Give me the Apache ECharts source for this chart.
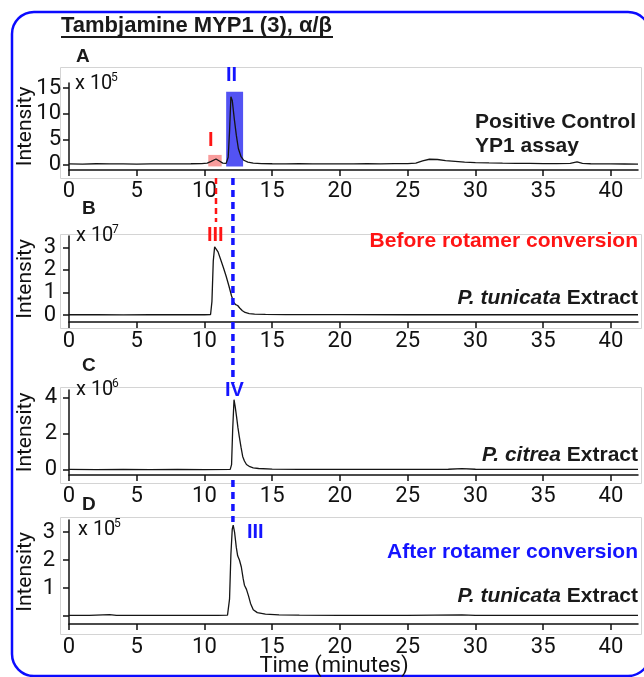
<!DOCTYPE html>
<html><head><meta charset="utf-8">
<script src="https://cdn.jsdelivr.net/npm/echarts@6/dist/echarts.min.js"></script>
<style>html,body{margin:0;padding:0;background:#fff}#c{width:644px;height:677px}</style>
</head><body><div id="c"></div>
<script>
// ---- data (time in minutes, intensity in the panel's scale unit) ----
const timeTicks = [0, 5, 10, 15, 20, 25, 30, 35, 40];
// Panel A: Positive control YP1 assay (x 10^5)
const chromA = [[0,0.2],[1,0.15],[2,0.22],[3,0.18],[4,0.2],[5,0.16],[6,0.21],[7,0.18],[8,0.2],[9,0.22],[9.8,0.25],[10.2,0.35],[10.5,0.7],[10.85,1.15],[11.1,0.75],[11.35,0.35],[11.6,0.3],[11.75,1.5],[11.85,6.5],[11.95,13.3],[12.05,12.6],[12.2,9.0],[12.35,5.8],[12.5,3.2],[12.7,1.6],[12.9,0.9],[13.2,0.55],[13.6,0.35],[14.2,0.25],[15,0.22],[16,0.2],[17,0.22],[18,0.18],[19,0.2],[20,0.21],[21,0.19],[22,0.22],[23,0.2],[24,0.23],[25,0.25],[25.6,0.35],[26.1,0.8],[26.6,1.1],[27.2,1.05],[27.8,0.85],[28.5,0.7],[29.2,0.55],[30,0.45],[31,0.38],[32,0.33],[33,0.3],[34,0.28],[35,0.26],[36,0.25],[37,0.3],[37.5,0.6],[37.9,0.3],[38.5,0.22],[39,0.2],[40,0.18],[41,0.17],[42,0.15]];
// Panel B: P. tunicata extract before rotamer conversion (x 10^7)
const chromB = [[0,0.02],[2,0.02],[4,0.015],[6,0.02],[8,0.02],[10,0.02],[10.45,0.03],[10.55,0.6],[10.65,2.4],[10.75,3.02],[10.85,3.0],[11.0,2.8],[11.2,2.45],[11.4,2.1],[11.6,1.72],[11.8,1.3],[12.0,0.85],[12.15,0.58],[12.3,0.47],[12.45,0.43],[12.6,0.32],[12.8,0.2],[13.0,0.12],[13.3,0.07],[13.7,0.05],[14.5,0.035],[16,0.03],[20,0.025],[25,0.02],[30,0.02],[35,0.02],[42,0.02]];
// Panel C: P. citrea extract (x 10^6)
const chromC = [[0,0.03],[2,0.02],[4,0.03],[6,0.02],[8,0.03],[10,0.02],[11.9,0.03],[12.0,0.3],[12.08,2.2],[12.18,3.9],[12.27,3.5],[12.37,2.95],[12.47,2.35],[12.57,1.85],[12.7,1.25],[12.82,0.75],[12.95,0.5],[13.1,0.3],[13.35,0.18],[13.6,0.12],[14,0.08],[15,0.05],[17,0.03],[20,0.03],[25,0.03],[28,0.04],[29,0.07],[30,0.04],[33,0.03],[36,0.03],[42,0.03]];
// Panel D: P. tunicata extract after rotamer conversion (x 10^5)
const chromD = [[0,0.02],[1.5,0.02],[3,0.05],[3.5,0.02],[5,0.02],[7,0.02],[9,0.02],[11,0.02],[11.7,0.03],[11.85,0.6],[11.95,2.2],[12.05,3.1],[12.12,3.25],[12.22,3.0],[12.35,2.45],[12.45,2.15],[12.58,2.0],[12.72,1.75],[12.85,1.35],[12.95,1.1],[13.1,0.95],[13.25,0.72],[13.4,0.45],[13.6,0.22],[13.9,0.12],[14.5,0.07],[15.5,0.04],[17,0.03],[20,0.02],[25,0.02],[29,0.04],[30,0.02],[35,0.02],[42,0.02]];
// y tick values / labels
const ticksA = [0, 5, 10, 15];
const ticksB = [0, 1, 2, 3];
const ticksC = [0, 2, 4];
const ticksD = [0, 1, 2, 3];
const labelsD = [1, 2, 3];
// highlighted windows in panel A: [tStart, tEnd, yLow, yHigh]
const windowI = [10.28, 11.27, -0.3, 1.95];
const windowII = [11.6, 12.85, -0.3, 14.3];
// retention-time guide lines
const guideRed = 10.85;
const guideBlue = 12.1;

// ---- layout ----
const FONT = 'Roboto, "Liberation Sans", Arial, sans-serif';
const BOLD = '"Liberation Sans", Arial, sans-serif';
const INK = '#111';
const grids = [
  {left: 69, right: 6, top: 83, height: 87, outerBoundsMode: 'none', containLabel: false},
  {left: 69, right: 6, top: 236, height: 86, outerBoundsMode: 'none', containLabel: false},
  {left: 69, right: 6, top: 390, height: 85, outerBoundsMode: 'none', containLabel: false},
  {left: 69, right: 6, top: 520, height: 104, outerBoundsMode: 'none', containLabel: false}
];
const yRanges = [[-1, 16], [-0.3, 3.5], [-0.28, 4.44], [-0.286, 3.43]];
const yTicks = [ticksA, ticksB, ticksC, ticksD];
const yLabels = [ticksA, ticksB, ticksC, labelsD];
const yMargins = [8, 13, 12, 14];
const xMargins = [10, 8, 10, 12];

const xAxes = grids.map((g, i) => ({
  type: 'value', gridIndex: i, min: 0, max: 42,
  axisLine: {onZero: false, lineStyle: {color: INK, width: 1.5}},
  axisTick: {show: true, inside: false, length: 6, lineStyle: {color: INK, width: 1.5}, customValues: timeTicks},
  axisLabel: {margin: xMargins[i], color: INK, fontSize: 22, fontFamily: FONT, customValues: timeTicks},
  splitLine: {show: false}
}));
const yAxes = grids.map((g, i) => ({
  type: 'value', gridIndex: i, min: yRanges[i][0], max: yRanges[i][1],
  name: 'Intensity', nameLocation: 'middle', nameRotate: 90, nameGap: 33, nameMoveOverlap: false,
  nameTextStyle: {fontSize: 21, fontFamily: FONT, color: INK},
  axisLine: {show: true, onZero: false, lineStyle: {color: INK, width: 1.5}},
  axisTick: {show: true, inside: false, length: 6, lineStyle: {color: INK, width: 1.5}, customValues: yTicks[i]},
  axisLabel: {margin: yMargins[i], color: INK, fontSize: 22, fontFamily: FONT, customValues: yLabels[i]},
  splitLine: {show: false}
}));
const chroms = [chromA, chromB, chromC, chromD];
const series = chroms.map((d, i) => ({
  type: 'line', xAxisIndex: i, yAxisIndex: i, data: d, showSymbol: false, silent: true,
  lineStyle: {color: '#151515', width: 1.3}, z: 5
}));
series[0].markArea = {
  silent: true,
  data: [
    [{xAxis: windowI[0], yAxis: windowI[2], itemStyle: {color: 'rgba(245,90,90,0.6)'}}, {xAxis: windowI[1], yAxis: windowI[3]}],
    [{xAxis: windowII[0], yAxis: windowII[2], itemStyle: {color: 'rgba(40,40,240,0.8)'}}, {xAxis: windowII[1], yAxis: windowII[3]}]
  ]
};

const chart = echarts.init(document.getElementById('c'), null, {renderer: 'canvas'});
chart.setOption({
  animation: false, backgroundColor: '#fff',
  grid: grids, xAxis: xAxes, yAxis: yAxes, series: series
});

// ---- decorations ----
const G = [];
function txt(x, y, text, o) {
  G.push({type: 'text', x: x, y: y, z: 100, silent: true,
    style: Object.assign({text: text, fill: '#1a1a1a', fontSize: 21, fontWeight: 'bold', fontFamily: BOLD, align: 'left', verticalAlign: 'middle'}, o || {})});
}
function line(x1, y1, x2, y2, o) {
  G.push({type: 'line', z: 90, silent: true, shape: {x1: x1, y1: y1, x2: x2, y2: y2}, style: Object.assign({stroke: INK, lineWidth: 2}, o || {})});
}
// outer rounded frame
G.push({type: 'rect', z: 1, silent: true, shape: {x: 12, y: 12, width: 638, height: 664, r: 22}, style: {fill: 'none', stroke: '#0b0bff', lineWidth: 2.5}});
// light panel frames
[[67, 178], [234, 328], [387, 483], [517, 634]].forEach(function (p) {
  G.push({type: 'rect', z: 0, silent: true, shape: {x: 60.5, y: p[0] + 0.5, width: 581, height: p[1] - p[0]}, style: {fill: 'none', stroke: '#d4d4d4', lineWidth: 1}});
});
// title
txt(61, 26, 'Tambjamine MYP1 (3), α/β', {fontSize: 22});
line(61, 37, 333, 37, {stroke: '#1a1a1a', lineWidth: 2});
// panel letters
txt(76, 57, 'A', {fontSize: 19});
txt(82, 209, 'B', {fontSize: 19});
txt(82, 366, 'C', {fontSize: 19});
txt(82, 505, 'D', {fontSize: 19});
// exponent labels
[[75, 84, '5'], [76, 236, '7'], [76, 390, '6'], [78, 530, '5']].forEach(function (e) {
  txt(e[0], e[1], 'x 10', {fontSize: 20, fontWeight: 'normal', fontFamily: FONT, fill: INK});
  txt(e[0] + 36, e[1] - 6, e[2], {fontSize: 12, fontWeight: 'normal', fontFamily: FONT, fill: INK});
});
// peak labels
const RED = '#ff1414', BLUE = '#1414ff';
txt(208, 140, 'I', {fill: RED, fontSize: 20});
txt(226, 75, 'II', {fill: BLUE, fontSize: 20});
txt(207, 235, 'III', {fill: RED, fontSize: 20});
txt(225, 390, 'IV', {fill: BLUE, fontSize: 20});
txt(247, 532, 'III', {fill: BLUE, fontSize: 20});
// panel captions
txt(475, 122.5, 'Positive Control');
txt(475, 146, 'YP1 assay');
txt(638, 241.5, 'Before rotamer conversion', {align: 'right', fill: RED});
txt(638, 552, 'After rotamer conversion', {align: 'right', fill: BLUE});
const rich = {
  i: {fontStyle: 'italic', fontWeight: 'bold', fontSize: 21, fontFamily: BOLD, fill: '#1a1a1a', color: '#1a1a1a'},
  b: {fontWeight: 'bold', fontSize: 21, fontFamily: BOLD, fill: '#1a1a1a', color: '#1a1a1a'}
};
txt(638, 298.5, '{i|P. tunicata} {b|Extract}', {align: 'right', rich: rich});
txt(638, 455, '{i|P. citrea} {b|Extract}', {align: 'right', rich: rich});
txt(638, 596.5, '{i|P. tunicata} {b|Extract}', {align: 'right', rich: rich});
// x-axis title
txt(334, 666, 'Time (minutes)', {align: 'center', fontSize: 22, fontWeight: 'normal', fontFamily: FONT, fill: INK});
// guide lines through the retention times
const xr = chart.convertToPixel({xAxisIndex: 0}, guideRed);
const xb = chart.convertToPixel({xAxisIndex: 0}, guideBlue);
line(xr, 178, xr, 222, {stroke: RED, lineWidth: 2.5, lineDash: [6, 4]});
line(xb, 178, xb, 383, {stroke: BLUE, lineWidth: 3.5, lineDash: [7, 5]});
line(xb, 480, xb, 522, {stroke: BLUE, lineWidth: 3.5, lineDash: [7, 5]});
chart.setOption({graphic: G});
</script></body></html>
